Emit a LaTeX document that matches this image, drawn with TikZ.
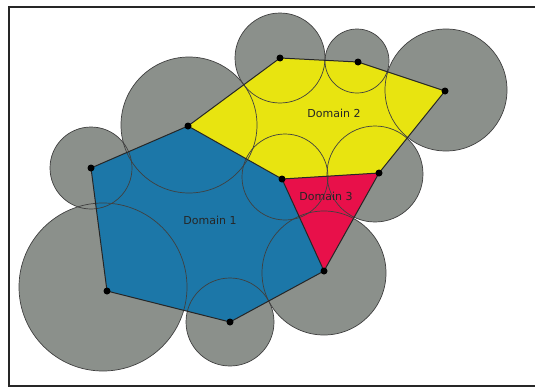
\documentclass[tikz,border=0pt]{standalone}
\usepackage{fontspec}
\setmainfont{DejaVu Sans}
\usetikzlibrary{backgrounds}
\usepackage{xcolor}
\definecolor{influGray}{RGB}{139,144,139}
\definecolor{domBlue}{RGB}{28,119,168}
\definecolor{domYellow}{RGB}{232,228,16}
\definecolor{domRed}{RGB}{232,16,74}
\tikzset{
    font=\fontsize{11}{13}\selectfont,
    % Fills
    influence/.style={fill=influGray},
    zoneBlue/.style={fill=domBlue},
    zoneYellow/.style={fill=domYellow},
    zoneRed/.style={fill=domRed},
    % Lines
    ring/.style={draw=black!75, line width=0.7pt},
    border/.style={draw=black!85, line width=1pt, line join=round},
    frame/.style={draw=black!85, line width=1.6pt},
    % Marks & labels
    vertex/.style={circle, fill=black, inner sep=0pt, minimum size=7pt},
    lbl/.style={text=black!85, inner sep=0pt}
}

\begin{document}
\begin{tikzpicture}[x=1pt, y=-1pt]
\useasboundingbox (0,0) rectangle (535,388);

% vertices of the three domains
\coordinate (A) at (91,168);
\coordinate (B) at (188,126);
\coordinate (C) at (280,58);
\coordinate (D) at (358,62);
\coordinate (E) at (445,91);
\coordinate (F) at (379,173);
\coordinate (G) at (282,179);
\coordinate (H) at (324,271);
\coordinate (I) at (230,322);
\coordinate (J) at (107,291);

% influence circles (vertex / shift / radius)
\foreach \p/\dx/\dy/\r in {A/0/0/41, B/1/-1/68, C/0/0/45, D/-1/-1/32, E/1/-1/61,
                           F/-4/1/48, G/3/-2/43, H/0/2/62, I/0/0/44, J/-4/-4/84}
    \fill[influence] ([shift={(\dx,\dy)}]\p) circle (\r pt);

% domains
\fill[zoneBlue] (A) -- (B) -- (G) -- (H) -- (I) -- (J) -- cycle;
\fill[zoneYellow] (B) -- (C) -- (D) -- (E) -- (F) -- (G) -- cycle;
\fill[zoneRed] (G) -- (F) -- (H) -- cycle;

\foreach \p/\dx/\dy/\r in {A/0/0/41, B/1/-1/68, C/0/0/45, D/-1/-1/32, E/1/-1/61,
                           F/-4/1/48, G/3/-2/43, H/0/2/62, I/0/0/44, J/-4/-4/84}
    \draw[ring] ([shift={(\dx,\dy)}]\p) circle (\r pt);

\draw[border] (A) -- (B) -- (C) -- (D) -- (E) -- (F) -- (H) -- (I) -- (J) -- cycle;
\draw[border] (B) -- (G) -- (F);
\draw[border] (G) -- (H);

\foreach \p in {A,B,C,D,E,F,G,H,I,J}
    \node[vertex] (\p-dot) at (\p) {};

\node[lbl] (dom1) at (210,220) {Domain 1};
\node[lbl] (dom2) at (334,113) {Domain 2};
\node[lbl] (dom3) at (326,196) {Domain 3};

% frame, open on the right
\draw[frame] (535,7) -- (9,7) -- (9,386) -- (535,386);

\end{tikzpicture}
\end{document}
